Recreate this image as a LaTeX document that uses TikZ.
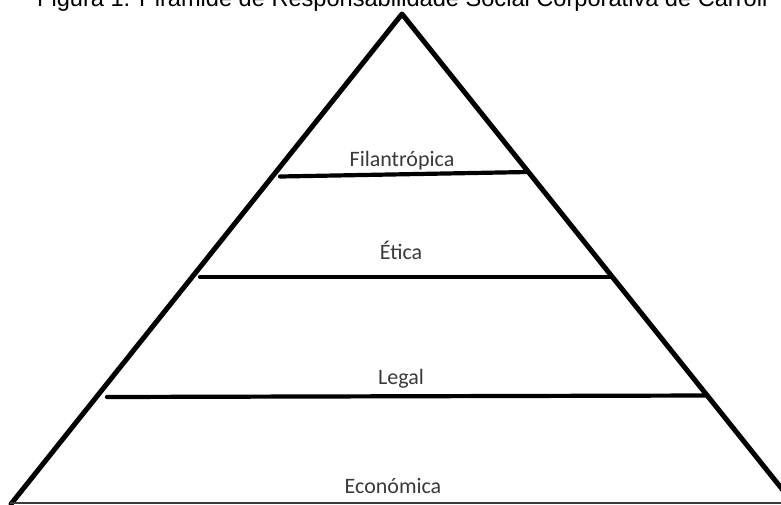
\documentclass[tikz,border=0pt]{standalone}
\usepackage{fontspec}
\setmainfont{Carlito}
\newfontfamily\titlefont{Liberation Sans}
\definecolor{labelgray}{HTML}{3A3A3A}
\tikzset{
  side/.style={line width=5pt,line join=round,line cap=round},
  divider/.style={line width=4.2pt,line cap=round},
  tier/.style={font=\fontsize{22}{24}\selectfont,text=labelgray,anchor=base,inner sep=0pt},
}
\begin{document}
\begin{tikzpicture}[x=1pt,y=-1pt]
\useasboundingbox (0,0) rectangle (781,504);
\clip (0,0) rectangle (781,504);
\fill[white] (0,0) rectangle (781,504);
% caption, cut by the top edge
\node[anchor=base west,inner sep=0pt,font=\titlefont\fontsize{23.6}{26}\selectfont] (caption)
  at (37,6) {Figura 1. Pirâmide de Responsabilidade Social Corporativa de Carroll};
% pyramid
\coordinate (apex) at (402,14);
\coordinate (baseL) at (11,504);
\coordinate (baseR) at (794,504);
\draw[side] (baseL) -- (apex) -- (baseR);
\draw[labelgray,line width=2pt] (10,502.5) -- (781,502.5);
% levels
\draw[divider] (280,176.5) -- (528,172);
\draw[divider] (200,277) -- (610,277);
\draw[divider] (107,397) -- (707,395.5);
\node[tier] (filan) at (402,166) {Filantrópica};
\node[tier] (etica) at (401,259) {Ética};
\node[tier] (legal) at (401,384) {Legal};
\node[tier] (econ) at (393,493) {Económica};
\end{tikzpicture}
\end{document}
